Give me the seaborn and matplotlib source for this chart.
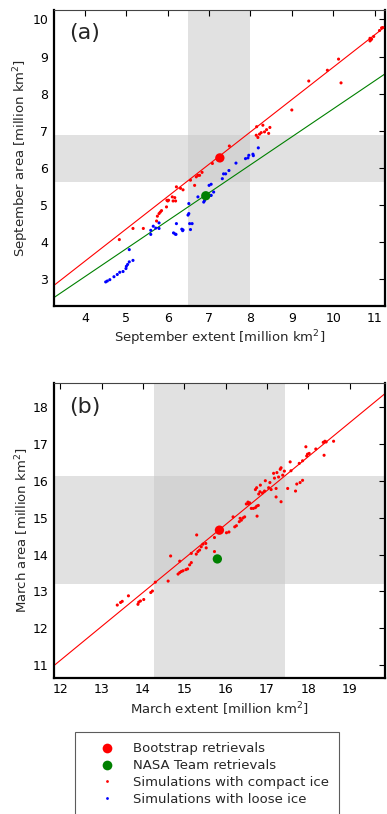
import matplotlib
matplotlib.use('Agg')
import matplotlib.pyplot as plt
import seaborn as sns
from matplotlib.lines import Line2D

sns.set_style('white')
plt.rcParams['font.family'] = ['DejaVu Sans']

# ---- panel (a): September ----
sep_compact_ext = [4.83, 5.16, 5.41, 5.73, 5.75, 5.79, 5.82, 5.85, 5.97, 5.98, 6.0, 6.02,
                   6.11, 6.13, 6.17, 6.19, 6.21, 6.31, 6.37, 6.55, 6.65, 6.69, 6.73, 6.77,
                   6.83, 7.08, 7.49, 8.14, 8.15, 8.18, 8.22, 8.26, 8.30, 8.34, 8.39, 8.44,
                   8.47, 9.0, 9.41, 9.86, 10.13, 10.19, 10.89, 10.89, 10.91, 10.93, 10.98,
                   11.12, 11.17, 11.20]
sep_compact_area = [4.07, 4.37, 4.37, 4.57, 4.70, 4.77, 4.81, 4.85, 4.95, 5.13, 5.11, 5.13,
                    5.22, 5.11, 5.20, 5.11, 5.49, 5.45, 5.41, 5.67, 5.53, 5.76, 5.80, 5.80,
                    5.88, 6.12, 6.59, 6.88, 7.11, 6.82, 6.91, 6.95, 7.15, 6.97, 7.03, 6.93,
                    7.09, 7.56, 8.34, 8.63, 8.93, 8.29, 9.49, 9.42, 9.45, 9.47, 9.54,
                    9.70, 9.77, 9.78]
sep_loose_ext = [4.50, 4.54, 4.60, 4.70, 4.78, 4.84, 4.92, 4.99, 5.00, 5.03, 5.07, 5.16, 5.07,
                 5.59, 5.59, 5.65, 5.71, 5.79, 5.79, 6.14, 6.18, 6.20, 6.21, 6.34, 6.37, 6.36,
                 6.53, 6.59, 6.55, 6.49, 6.51, 6.51, 6.73, 6.87, 6.89, 7.05, 7.11, 7.0, 7.05,
                 7.04, 7.32, 7.35, 7.40, 7.48, 7.65, 7.88, 7.94, 7.96, 8.06, 8.07, 8.19]
sep_loose_area = [2.93, 2.955, 2.99, 3.07, 3.13, 3.19, 3.21, 3.29, 3.35, 3.40, 3.47, 3.51, 3.80,
                  4.21, 4.32, 4.43, 4.38, 4.37, 4.52, 4.25, 4.22, 4.21, 4.50, 4.35, 4.33, 4.31,
                  4.50, 4.50, 4.34, 4.73, 4.77, 5.04, 5.22, 5.08, 5.12, 5.26, 5.35, 5.53, 5.56,
                  5.26, 5.71, 5.84, 5.84, 5.93, 6.13, 6.25, 6.27, 6.34, 6.37, 6.33, 6.54]
sep_bootstrap = (7.26, 6.27)
sep_nasateam = (6.92, 5.25)
sep_fit_compact = (0.01, 0.87)    # intercept, slope
sep_fit_loose = (0.064, 0.7525)
sep_obs_ext_range = (6.5, 8.0)
sep_obs_area_range = (5.63, 6.89)

# ---- panel (b): March ----
mar_compact_ext = [13.38, 13.46, 13.50, 13.65, 13.88, 13.90, 13.94, 14.02, 14.19, 14.23, 14.30,
                   14.61, 14.67, 14.85, 14.89, 14.93, 14.97, 15.04, 15.08, 14.89, 15.13, 15.17,
                   15.17, 15.29, 15.33, 15.37, 15.41, 15.45, 15.52, 15.53, 15.30, 15.73, 15.73,
                   16.02, 16.08, 16.22, 16.26, 16.18, 16.33, 16.38, 16.42, 16.46, 16.55, 16.58,
                   16.35, 16.76, 16.50, 16.54, 16.62, 16.67, 16.72, 16.75, 16.79, 16.72, 16.75,
                   16.80, 16.83, 16.89, 16.94, 16.84, 16.96, 17.04, 17.07, 17.10, 17.16, 17.18,
                   17.24, 17.22, 17.22, 17.28, 17.34, 17.32, 17.38, 17.42, 17.34, 17.50, 17.56,
                   17.58, 17.69, 17.72, 17.78, 17.80, 17.86, 17.86, 17.94, 17.96, 17.98, 18.02,
                   18.18, 18.38, 18.36, 18.40, 18.43, 18.61]
mar_compact_area = [12.63, 12.70, 12.73, 12.88, 12.65, 12.71, 12.74, 12.78, 12.97, 13.01, 13.25,
                    13.28, 13.96, 13.47, 13.51, 13.54, 13.56, 13.59, 13.61, 13.82, 13.72, 13.78,
                    14.03, 14.01, 14.08, 14.12, 14.21, 14.28, 14.30, 14.18, 14.53, 14.46, 14.08,
                    14.59, 14.61, 14.75, 14.78, 15.02, 14.89, 14.93, 14.99, 15.02, 15.37, 15.40,
                    14.98, 15.04, 15.37, 15.42, 15.25, 15.25, 15.27, 15.31, 15.33, 15.76, 15.81,
                    15.64, 15.70, 15.67, 15.72, 15.88, 16.00, 15.81, 15.95, 15.76, 16.20, 16.07,
                    16.22, 15.79, 15.56, 16.10, 16.35, 16.31, 16.15, 16.26, 15.43, 15.79, 16.51,
                    16.27, 15.72, 15.91, 16.47, 15.95, 16.01, 16.54, 16.92, 16.67, 16.72, 16.74,
                    16.86, 16.69, 17.04, 17.07, 17.05, 17.07]
mar_bootstrap = (15.85, 14.66)
mar_nasateam = (15.80, 13.88)
mar_fit_compact = (0.076, 0.921)
mar_obs_ext_range = (14.27, 17.44)
mar_obs_area_range = (13.2, 16.14)

RED, GREEN, BLUE = '#ff0000', '#008000', '#0000ff'
BAND = dict(color='#c7c7c7', alpha=0.52, lw=0, zorder=0)


def style_axes(ax, xlim, ylim, xticks, yticks):
    ax.set_xlim(*xlim)
    ax.set_ylim(*ylim)
    ax.set_xticks(xticks)
    ax.set_yticks(yticks)
    ax.tick_params(direction='in', length=4, width=0.8, top=True, right=True,
                   labelsize=9, colors='black', pad=4)
    for side in ['left', 'bottom', 'right']:
        ax.spines[side].set_linewidth(1.6)
        ax.spines[side].set_color('black')
    ax.spines['top'].set_linewidth(0.8)
    ax.spines['top'].set_color('#444444')


fig = plt.figure(figsize=(3.87, 8.14), dpi=100)
ax_a = fig.add_axes([0.1395, 0.624, 0.855, 0.3636])
ax_b = fig.add_axes([0.1395, 0.1674, 0.855, 0.3617])

# (a)
ax_a.axvspan(*sep_obs_ext_range, **BAND)
ax_a.axhspan(*sep_obs_area_range, **BAND)
ax_a.axline((0, sep_fit_compact[0]), slope=sep_fit_compact[1], color=RED, lw=0.8, zorder=2)
ax_a.axline((0, sep_fit_loose[0]), slope=sep_fit_loose[1], color=GREEN, lw=0.8, zorder=2)
sns.scatterplot(x=sep_compact_ext, y=sep_compact_area, color=RED, s=5, edgecolor='none',
                legend=False, ax=ax_a, zorder=3)
sns.scatterplot(x=sep_loose_ext, y=sep_loose_area, color=BLUE, s=5, edgecolor='none',
                legend=False, ax=ax_a, zorder=3)
sns.scatterplot(x=[sep_bootstrap[0]], y=[sep_bootstrap[1]], color=RED, s=45, edgecolor='none',
                legend=False, ax=ax_a, zorder=4)
sns.scatterplot(x=[sep_nasateam[0]], y=[sep_nasateam[1]], color=GREEN, s=45, edgecolor='none',
                legend=False, ax=ax_a, zorder=4)
style_axes(ax_a, (3.25, 11.25), (2.28, 10.25), range(4, 12), range(3, 11))
ax_a.set_xlabel('September extent [million km$^2$]', fontsize=9.5, labelpad=3)
ax_a.set_ylabel('September area [million km$^2$]', fontsize=9.5, labelpad=1)
ax_a.text(0.045, 0.955, '(a)', transform=ax_a.transAxes, fontsize=16, ha='left', va='top')

# (b)
ax_b.axvspan(*mar_obs_ext_range, **BAND)
ax_b.axhspan(*mar_obs_area_range, **BAND)
ax_b.axline((0, mar_fit_compact[0]), slope=mar_fit_compact[1], color=RED, lw=0.8, zorder=2)
sns.scatterplot(x=mar_compact_ext, y=mar_compact_area, color=RED, s=5, edgecolor='none',
                legend=False, ax=ax_b, zorder=3)
sns.scatterplot(x=[mar_bootstrap[0]], y=[mar_bootstrap[1]], color=RED, s=45, edgecolor='none',
                legend=False, ax=ax_b, zorder=4)
sns.scatterplot(x=[mar_nasateam[0]], y=[mar_nasateam[1]], color=GREEN, s=45, edgecolor='none',
                legend=False, ax=ax_b, zorder=4)
style_axes(ax_b, (11.85, 19.85), (10.66, 18.64), range(12, 20), range(11, 19))
ax_b.set_xlabel('March extent [million km$^2$]', fontsize=9.5, labelpad=3)
ax_b.set_ylabel('March area [million km$^2$]', fontsize=9.5, labelpad=1)
ax_b.text(0.045, 0.955, '(b)', transform=ax_b.transAxes, fontsize=16, ha='left', va='top')

handles = [
    Line2D([], [], ls='none', marker='o', ms=7, color=RED, mec='none'),
    Line2D([], [], ls='none', marker='o', ms=7, color=GREEN, mec='none'),
    Line2D([], [], ls='none', marker='o', ms=2, color=RED, mec='none'),
    Line2D([], [], ls='none', marker='o', ms=2, color=BLUE, mec='none'),
]
labels = ['Bootstrap retrievals', 'NASA Team retrievals',
          'Simulations with compact ice', 'Simulations with loose ice']
leg = fig.legend(handles, labels, loc='upper center', bbox_to_anchor=(0.535, 0.101),
                 fontsize=9.5, frameon=True, fancybox=False, edgecolor='#333333',
                 borderpad=0.8, labelspacing=0.29, handletextpad=0.34, borderaxespad=0,
                 handlelength=3.26)
leg.get_frame().set_linewidth(0.8)

fig.savefig('out.png', dpi=100)
